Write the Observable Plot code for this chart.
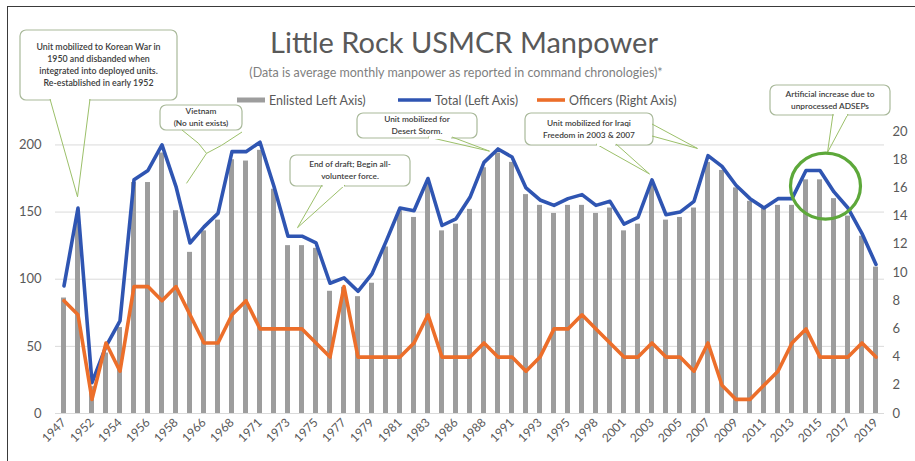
<!DOCTYPE html>
<html><head><meta charset="utf-8">
<script src="https://cdn.jsdelivr.net/npm/d3@7"></script>
<script src="https://cdn.jsdelivr.net/npm/@observablehq/plot@0.6"></script>
<style>
body{margin:0;background:#fff;}
#wrap{position:relative;width:915px;height:461px;overflow:hidden;background:#fff;}
#frame{position:absolute;left:7px;top:6px;width:1000px;height:1000px;border-left:1.5px solid #3a3a3a;border-top:1.5px solid #3a3a3a;pointer-events:none;}
#wrap svg{position:absolute;left:0;top:0;}
</style></head>
<body><div id="wrap"><div id="frame"></div></div>
<script>
// ---- data ----
const years = ["1947","1950","1952","1953","1954","1955","1956","1957","1958","1965","1966","1967","1968","1970","1971","1972","1973","1974","1975","1976","1977","1978","1979","1980","1981","1982","1983","1985","1986","1987","1988","1990","1991","1992","1993","1994","1995","1997","1998","2000","2001","2002","2003","2004","2005","2006","2007","2008","2009","2010","2011","2012","2013","2014","2015","2016","2017","2018","2019"];
const enlisted = [86,145,20,45,64,172,172,194,151,120,136,144,189,188,196,167,125,125,123,91,94,87,97,124,151,146,172,136,141,152,183,194,187,163,155,149,155,155,149,153,136,141,170,144,146,153,187,181,168,158,153,155,155,174,174,160,147,132,109];
const total = [95,153,23,50,69,174,181,200,169,127,139,149,195,195,202,169,132,132,127,97,101,91,104,128,153,151,175,140,145,161,187,197,191,168,159,155,160,163,155,158,141,146,174,148,150,158,192,184,170,160,153,160,160,181,181,165,153,134,111];
const officers = [8,7,1,5,3,9,9,8,9,7,5,5,7,8,6,6,6,6,5,4,9,4,4,4,4,5,7,4,4,4,5,4,4,3,4,6,6,7,6,5,4,4,5,4,4,3,5,2,1,1,2,3,5,6,4,4,4,5,4];
const leftTicks = [0,50,100,150,200];
const rightTicks = [0,2,4,6,8,10,12,14,16,18,20];
const titleText = "Little Rock USMCR Manpower";
const subtitleText = "(Data is average monthly manpower as reported in command chronologies)*";
const legendLabels = ["Enlisted Left Axis)","Total (Left Axis)","Officers (Right Axis)"];
const notes = [
  {lines:["Unit mobilized to Korean War in","1950 and disbanded when","integrated into deployed units.","Re-established in early 1952"], year:"1950", value:161, dx:0},
  {lines:["Vietnam","(No unit exists)"], year:"1965", value:171, dx:-3},
  {lines:["End of draft; Begin all-","volunteer force."], year:"1974", value:138, dx:-4},
  {lines:["Unit mobilized for","Desert Storm."], year:"1988", value:195, dx:6},
  {lines:["Unit mobilized for Iraqi","Freedom in 2003 & 2007"], year:"2003", value:178, dx:-2, year2:"2007", value2:197, dx2:-10},
  {lines:["Artificial increase due to","unprocessed ADSEPs"], year:"2016", value:194, dx:-6}
];
const RATIO = 210 / 20; // right axis (officers) -> left axis units

const rows = years.map((y,i)=>({year:y, enlisted:enlisted[i], total:total[i], officers:officers[i]}));

const C = {bar:"#9d9d9d", blue:"#2f55b2", orange:"#ec6e2a", text:"#595959", grid:"#dadada", green:"#5da83a", callout:"#a9b99a", ptr:"#9cc06a"};
const font = "Lato, 'Open Sans', sans-serif";

const plot = Plot.plot({
  width: 915, height: 461,
  marginTop: 131, marginBottom: 48, marginLeft: 55, marginRight: 31,
  style: {fontFamily: font, fontSize: "13px", color: C.text, background: "transparent", overflow: "visible"},
  x: {type: "band", domain: years, paddingInner: 0.64, paddingOuter: 0.32, label: null},
  y: {domain: [0, 210], label: null},
  marks: [
    Plot.gridY(leftTicks, {stroke: C.grid, strokeOpacity: 1}),
    Plot.barY(rows, {x: "year", y: "enlisted", fill: C.bar}),
    Plot.lineY(rows, {x: "year", y: "total", stroke: C.blue, strokeWidth: 3.6, strokeLinejoin: "round"}),
    Plot.lineY(rows, {x: "year", y: d => d.officers * RATIO, stroke: C.orange, strokeWidth: 3.6, strokeLinejoin: "round"}),
    Plot.axisY(leftTicks, {anchor: "left", tickSize: 0, tickPadding: 14, label: null, fontSize: 13}),
    Plot.axisY(rightTicks.map(v => v * RATIO), {anchor: "right", tickSize: 0, tickPadding: 8, label: null, fontSize: 13, tickFormat: d => Math.round(d / RATIO)}),
    Plot.axisX(years.filter((d,i) => i % 2 === 0), {tickRotate: -45, tickSize: 0, tickPadding: 7, label: null, fontSize: 12})
  ]
});
document.getElementById("wrap").appendChild(plot);

const xs = plot.scale("x"), ysc = plot.scale("y");
const X = (yr) => xs.apply(yr) + xs.bandwidth / 2;
const Y = (v) => ysc.apply(v);

const svg = d3.select(plot);
const g = svg.append("g").attr("font-family", font).attr("text-anchor", "start");

// title & subtitle
g.append("text").attr("x", 464).attr("y", 53).attr("text-anchor", "middle").attr("font-size", 29).attr("fill", C.text).text(titleText);
g.append("text").attr("x", 456).attr("y", 77).attr("text-anchor", "middle").attr("font-size", 12.5).attr("fill", "#7f7f7f").text(subtitleText);

// legend
const leg = [
  {x: 237, w: 28, type: "bar", color: C.bar},
  {x: 398, w: 33, type: "line", color: C.blue},
  {x: 537, w: 28, type: "line", color: C.orange}
];
leg.forEach((l, i) => {
  if (l.type === "bar") g.append("rect").attr("x", l.x).attr("y", 97.5).attr("width", l.w).attr("height", 5).attr("fill", l.color);
  else g.append("line").attr("x1", l.x).attr("x2", l.x + l.w).attr("y1", 100).attr("y2", 100).attr("stroke", l.color).attr("stroke-width", 3.6);
  g.append("text").attr("x", l.x + l.w + 4).attr("y", 104.5).attr("text-anchor", "start").attr("font-size", 12.5).attr("fill", C.text).text(legendLabels[i]);
});

// callouts
const boxes = [
  {x: 20, y: 30, w: 157, h: 70, base: [50, 90], fs: 8.8, lh: 12},
  {x: 160, y: 105, w: 82, h: 25, fs: 8.3, lh: 12, bent: true},
  {x: 290, y: 155, w: 120, h: 31, base: [322, 345], fs: 8.3, lh: 12},
  {x: 357, y: 113, w: 120, h: 25, base: [428, 452], fs: 8.3, lh: 12},
  {x: 525, y: 113, w: 128, h: 32, base: [596, 616], fs: 8.3, lh: 11.5, side: [124, 136]},
  {x: 770, y: 85, w: 120, h: 30, base: [833, 848], fs: 8.3, lh: 11.5}
];
notes.forEach((n, i) => {
  const b = boxes[i];
  const tx = X(n.year) + n.dx, ty = Y(n.value);
  const gg = g.append("g");
  gg.append("rect").attr("x", b.x).attr("y", b.y).attr("width", b.w).attr("height", b.h).attr("rx", 6)
    .attr("fill", "#fff").attr("stroke", C.callout).attr("stroke-width", 1.2);
  if (b.base) {
    gg.append("path").attr("d", `M${b.base[0]},${b.y + b.h - 1}L${tx},${ty}L${b.base[1]},${b.y + b.h - 1}`)
      .attr("fill", "none").attr("stroke", C.ptr).attr("stroke-width", 1);
    gg.append("line").attr("x1", b.base[0] + 1).attr("x2", b.base[1] - 1).attr("y1", b.y + b.h).attr("y2", b.y + b.h)
      .attr("stroke", "#fff").attr("stroke-width", 2);
  }
  if (b.bent) {
    const kx = tx + 20, ky = ty - 30;
    gg.append("path").attr("d", `M${b.x + 22},${b.y + b.h}L${kx - 8},${ky - 10}L${kx},${ky}L${tx},${ty}`)
      .attr("fill", "none").attr("stroke", C.ptr).attr("stroke-width", 1);
    gg.append("path").attr("d", `M${b.x + b.w},${b.y + b.h + 2}L${kx + 15},${ky - 8}L${kx},${ky}`)
      .attr("fill", "none").attr("stroke", C.ptr).attr("stroke-width", 1);
  }
  if (b.side) {
    const t2x = X(n.year2) + n.dx2, t2y = Y(n.value2);
    gg.append("path").attr("d", `M${b.x + b.w - 1},${b.y + b.side[0] - 113}L${t2x},${t2y}L${b.x + b.w - 1},${b.y + b.side[1] - 113}`)
      .attr("fill", "none").attr("stroke", C.ptr).attr("stroke-width", 1);
  }
  const cx = b.x + b.w / 2;
  const total_h = (n.lines.length - 1) * b.lh;
  const y0 = b.y + b.h / 2 - total_h / 2 + b.fs * 0.35;
  n.lines.forEach((t, k) => {
    gg.append("text").attr("x", cx).attr("y", y0 + k * b.lh).attr("text-anchor", "middle")
      .attr("font-size", b.fs).attr("font-weight", 600).attr("fill", "#3c3c3c").text(t);
  });
});

// highlight circle around 2014-2016
g.append("ellipse").attr("cx", X("2015") + 6).attr("cy", Y(169)).attr("rx", 35).attr("ry", 33)
  .attr("fill", "none").attr("stroke", C.green).attr("stroke-width", 3.2);
</script>
</body></html>
